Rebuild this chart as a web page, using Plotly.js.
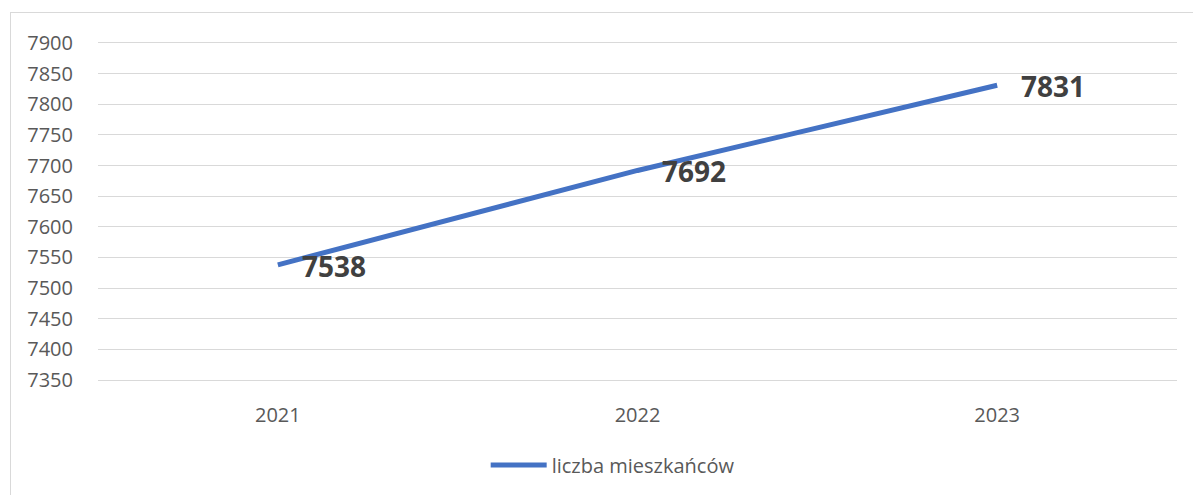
<!DOCTYPE html>
<html>
<head>
<meta charset="utf-8">
<script src="https://cdn.plot.ly/plotly-3.0.1.min.js"></script>
<style>
  html, body { margin: 0; padding: 0; background: #fff; }
  #frame { position: absolute; left: 10px; top: 12px; width: 1200px; height: 500px;
           border-left: 1px solid #d9d9d9; border-top: 1px solid #d9d9d9; }
  #chart { position: absolute; left: 0; top: 0; width: 1193px; height: 495px; }
</style>
</head>
<body>
<div id="frame"></div>
<div id="chart"></div>
<script>
const years = ['2021', '2022', '2023'];
const residents = [7538, 7692, 7831];
const seriesName = 'liczba mieszkańców';
const yTicks = [7350, 7400, 7450, 7500, 7550, 7600, 7650, 7700, 7750, 7800, 7850, 7900];

const trace = {
  x: years,
  y: residents,
  type: 'scatter',
  mode: 'lines',
  name: seriesName,
  line: { color: '#4472C4', width: 5, shape: 'linear' },
  hoverinfo: 'x+y'
};

const annotations = years.map((yr, i) => ({
  x: i, y: residents[i], xref: 'x', yref: 'y',
  text: String(residents[i]), showarrow: false,
  xanchor: 'left', yanchor: 'middle', xshift: 22, yshift: -1,
  font: { family: 'Open Sans, Liberation Sans, sans-serif', size: 28, color: '#404040', weight: 'bold' }
}));

const layout = {
  width: 1193, height: 495,
  margin: { l: 98, r: 16, t: 41, b: 112 },
  paper_bgcolor: 'rgba(0,0,0,0)',
  plot_bgcolor: 'rgba(0,0,0,0)',
  showlegend: true,
  font: { family: 'Open Sans, Liberation Sans, sans-serif', color: '#595959', size: 20 },
  xaxis: {
    type: 'category', range: [-0.5, years.length - 0.5], autorange: false,
    showgrid: false, zeroline: false, showline: false,
    ticks: 'outside', ticklen: 15, tickcolor: 'rgba(0,0,0,0)',
    tickfont: { size: 20, color: '#595959' }, fixedrange: true
  },
  yaxis: {
    range: [7346.75, 7903.25], autorange: false, tickmode: 'array', tickvals: yTicks,
    ticktext: yTicks.map(String),
    showgrid: true, gridcolor: '#d9d9d9', gridwidth: 1, zeroline: false, showline: false,
    ticks: 'outside', ticklen: 20, tickcolor: 'rgba(0,0,0,0)',
    tickfont: { size: 20, color: '#595959' }, fixedrange: true
  },
  legend: {
    orientation: 'h', x: 0.477, xanchor: 'center', y: -0.24, yanchor: 'middle',
    itemwidth: 56, font: { size: 20, color: '#595959' }, bgcolor: 'rgba(0,0,0,0)'
  },
  annotations: annotations
};

Plotly.newPlot('chart', [trace], layout, { displayModeBar: false, staticPlot: true });
</script>
</body>
</html>
